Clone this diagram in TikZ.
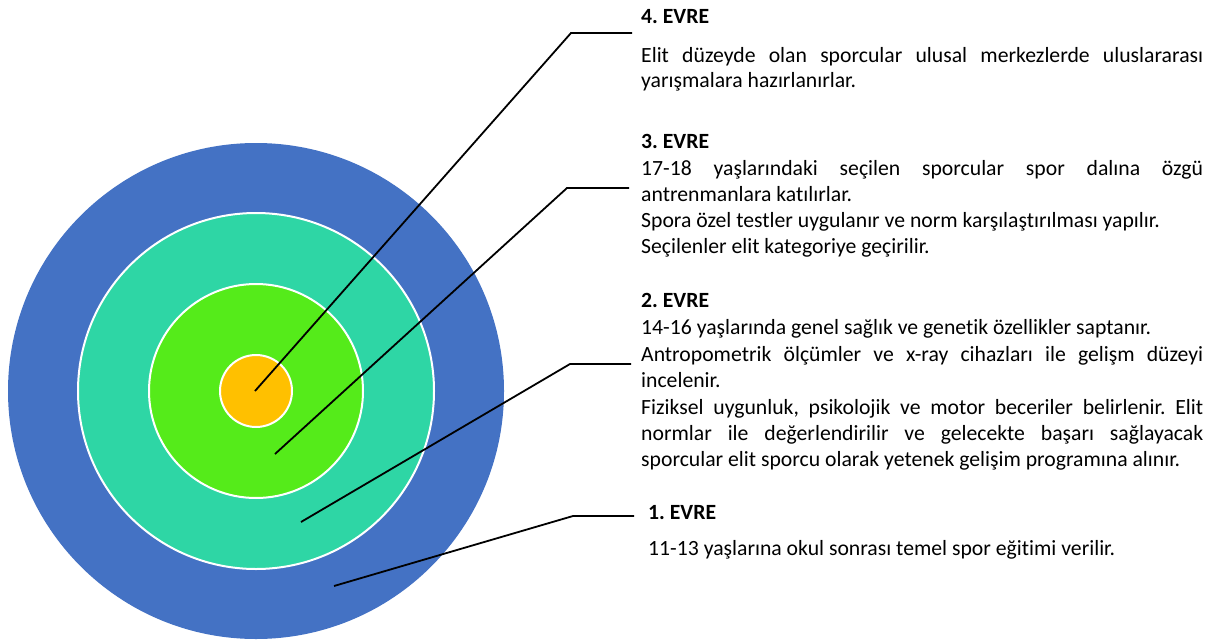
\documentclass[tikz,border=0pt]{standalone}
\usepackage{fontspec}
\setmainfont[Ligatures=NoCommon]{Carlito}
\frenchspacing
\definecolor{ringblue}{HTML}{4472C4}
\definecolor{ringteal}{HTML}{2ED6A5}
\definecolor{ringgreen}{HTML}{55EB1A}
\definecolor{ringorange}{HTML}{FFC000}
\newcommand{\jline}[1]{\makebox[562pt][s]{#1}}
\begin{document}
\begin{tikzpicture}[x=1pt,y=-1pt,
  ring/.style={circle, inner sep=0pt, draw=white, line width=2pt},
  txt/.style={anchor=base west, inner sep=0pt, font=\fontsize{21.7}{26}\selectfont},
  head/.style={anchor=base west, inner sep=0pt, font=\fontsize{21.7}{26}\selectfont\bfseries},
  conn/.style={draw=black, line width=1.8pt}]
\useasboundingbox (0,0) rectangle (1215,642);
% rings
\node[ring, fill=ringblue, draw=none, minimum size=496pt] (r1) at (256,391) {};
\node[ring, fill=ringteal, minimum size=356pt] (r2) at (256,391) {};
\node[ring, fill=ringgreen, minimum size=214pt] (r3) at (256,391) {};
\node[ring, fill=ringorange, minimum size=72pt] (r4) at (256,391) {};
% connector coordinates
\coordinate (c4) at (255,391); \coordinate (k4) at (571,33); \coordinate (e4) at (632,33);
\coordinate (c3) at (275,454); \coordinate (k3) at (567,188); \coordinate (e3) at (629,188);
\coordinate (c2) at (301,522); \coordinate (k2) at (570,364); \coordinate (e2) at (631,364);
\coordinate (c1) at (334,586); \coordinate (k1) at (573,516); \coordinate (e1) at (634,516);
\draw[conn] (c4) -- (k4) -- (e4);
\draw[conn] (c3) -- (k3) -- (e3);
\draw[conn] (c2) -- (k2) -- (e2);
\draw[conn] (c1) -- (k1) -- (e1);
% stage 4
\node[head] (h4) at (641,24) {4. EVRE};
\node[txt] (t4a) at (641,63) {\jline{Elit düzeyde olan sporcular ulusal merkezlerde uluslararası}};
\node[txt] (t4b) at (641,87) {yarışmalara hazırlanırlar.};
% stage 3
\node[head] (h3) at (641,148) {3. EVRE};
\node[txt] (t3a) at (641,175) {\jline{17-18 yaşlarındaki seçilen sporcular spor dalına özgü}};
\node[txt] (t3b) at (641,201) {antrenmanlara katılırlar.};
\node[txt] (t3c) at (641,227) {Spora özel testler uygulanır ve norm karşılaştırılması yapılır.};
\node[txt] (t3d) at (641,253) {Seçilenler elit kategoriye geçirilir.};
% stage 2
\node[head] (h2) at (641,307) {2. EVRE};
\node[txt] (t2a) at (641,334) {14-16 yaşlarında genel sağlık ve genetik özellikler saptanır.};
\node[txt] (t2b) at (641,361) {\jline{Antropometrik ölçümler ve x-ray cihazları ile gelişm düzeyi}};
\node[txt] (t2c) at (641,387) {incelenir.};
\node[txt] (t2d) at (641,414) {\jline{Fiziksel uygunluk, psikolojik ve motor beceriler belirlenir. Elit}};
\node[txt] (t2e) at (641,440) {\jline{normlar ile değerlendirilir ve gelecekte başarı sağlayacak}};
\node[txt] (t2f) at (641,466) {sporcular elit sporcu olarak yetenek gelişim programına alınır.};
% stage 1
\node[head] (h1) at (648,519) {1. EVRE};
\node[txt] (t1a) at (648,555) {11-13 yaşlarına okul sonrası temel spor eğitimi verilir.};
\end{tikzpicture}
\end{document}
